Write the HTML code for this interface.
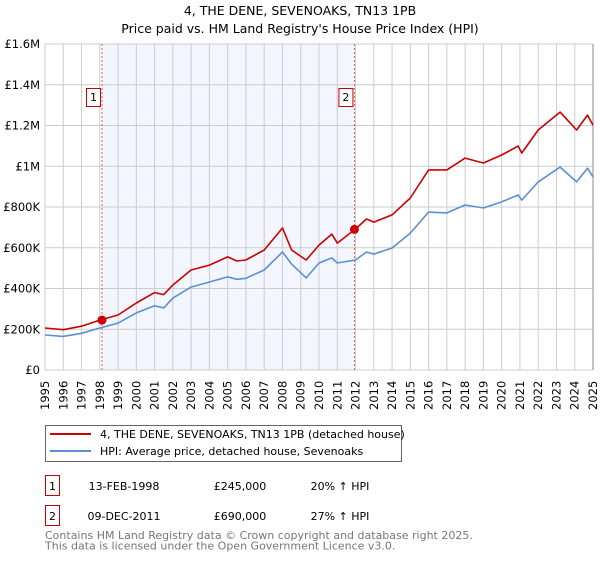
<!DOCTYPE html>
<html><head><meta charset="utf-8"><style>
body{margin:0;background:#fff;font-family:"Liberation Sans","DejaVu Sans",sans-serif;}
svg text{font-family:"DejaVu Sans","Liberation Sans",sans-serif;}
</style></head><body>
<svg id="chart" width="600" height="560" xmlns="http://www.w3.org/2000/svg">
<text x="300" y="15" text-anchor="middle" font-size="12.5">4, THE DENE, SEVENOAKS, TN13 1PB</text>
<text x="300" y="33" text-anchor="middle" font-size="12.5">Price paid vs. HM Land Registry's House Price Index (HPI)</text>
<g id="plot"></g>
<g>
<rect x="45.5" y="425.5" width="356" height="36" fill="#fff" stroke="#666"/>
<line x1="50" y1="434" x2="91" y2="434" stroke="#cc0000" stroke-width="2"/>
<text x="100" y="438" font-size="11">4, THE DENE, SEVENOAKS, TN13 1PB (detached house)</text>
<line x1="50" y1="451" x2="91" y2="451" stroke="#5b8fd4" stroke-width="2"/>
<text x="100" y="455" font-size="11">HPI: Average price, detached house, Sevenoaks</text>
</g>
<g>
<rect x="45.5" y="475.5" width="14" height="20" fill="#fff" stroke="#cc0000"/>
<text x="52.5" y="490" text-anchor="middle" font-size="11">1</text>
<text x="124" y="490" text-anchor="middle" font-size="11">13-FEB-1998</text>
<text x="240" y="490" text-anchor="middle" font-size="11">£245,000</text>
<text x="340" y="490" text-anchor="middle" font-size="11">20% ↑ HPI</text>
<rect x="45.5" y="505.5" width="14" height="20" fill="#fff" stroke="#cc0000"/>
<text x="52.5" y="520" text-anchor="middle" font-size="11">2</text>
<text x="124" y="520" text-anchor="middle" font-size="11">09-DEC-2011</text>
<text x="240" y="520" text-anchor="middle" font-size="11">£690,000</text>
<text x="340" y="520" text-anchor="middle" font-size="11">27% ↑ HPI</text>
</g>
<text x="45" y="539" font-size="11" fill="#777">Contains HM Land Registry data © Crown copyright and database right 2025.</text>
<text x="45" y="549.5" font-size="11" fill="#777">This data is licensed under the Open Government Licence v3.0.</text>
</svg>
<script>
const hpiYears=[1995,1996,1997,1998,1999,2000,2001,2001.5,2002,2003,2004,2005,2005.5,2006,2007,2008,2008.5,2009.3,2010,2010.7,2011,2012,2012.6,2013,2014,2015,2016,2017,2018,2019,2020,2020.9,2021.1,2022,2023.2,2024.1,2024.7,2025];
const hpiValues=[172,165,180,206,230,280,315,305,353,407,432,457,445,450,491,579,520,452,525,550,525,540,579,569,599,672,775,771,810,795,825,859,834,923,996,923,991,947];
const priceValues=[206,198,215,245,270,329,380,370,417,491,515,555,535,540,589,697,589,540,613,667,623,692,741,726,761,844,982,982,1040,1016,1055,1099,1065,1178,1266,1178,1251,1202];
const yTicks=[0,200,400,600,800,1000,1200,1400,1600];
const yTickLabels=["£0","£200K","£400K","£600K","£800K","£1M","£1.2M","£1.4M","£1.6M"];
const saleYears=[1998.12,2011.94];
const saleValues=[245,690];
const saleLabels=["1","2"];

const NS="http://www.w3.org/2000/svg";
const X0=45,X1=593,Y0=370,Y1=44;
const xs=y=>X0+(y-1995)/(2025-1995)*(X1-X0);
const ys=v=>Y0-v/1600*(Y0-Y1);
const g=document.getElementById('plot');
function mk(t,a){const e=document.createElementNS(NS,t);for(const k in a)e.setAttribute(k,a[k]);g.appendChild(e);return e;}
let r=mk('rect',{x:xs(saleYears[0]),y:Y1,width:xs(saleYears[1])-xs(saleYears[0]),height:Y0-Y1,fill:'#f3f6fe'});


for(let yr=1995;yr<=2025;yr++){
 const l=mk('line',{x1:xs(yr),x2:xs(yr),y1:Y1,y2:Y0,stroke:'#cccccc','stroke-width':1});
 
 
 const t=mk('text',{transform:`translate(${xs(yr)+4},${Y0+40}) rotate(-90)`,'font-size':11.5});
 t.textContent=yr;
 
 
}
yTicks.forEach((v,i)=>{
 const l=mk('line',{x1:X0,x2:X1,y1:ys(v),y2:ys(v),stroke:'#cccccc','stroke-width':1});
 
 
 const t=mk('text',{x:X0-5,y:ys(v)+4,'text-anchor':'end','font-size':11.5});
 t.textContent=yTickLabels[i];
 
 
});
const ax=mk('line',{x1:X1,x2:X1,y1:Y1,y2:Y0,stroke:'#888','stroke-width':1});


saleYears.forEach((yr,i)=>{
 const l=mk('line',{x1:xs(yr),x2:xs(yr),y1:Y1,y2:Y0,stroke:'#e06060','stroke-width':1,'stroke-dasharray':'2,2'});
 
 
 const b=mk('rect',{x:xs(yr)-15.5,y:88.5,width:14,height:18,fill:'#fff',stroke:'#cc0000'});
 
 
 const t=mk('text',{x:xs(yr)-8.5,y:101,'text-anchor':'middle','font-size':11});
 t.textContent=saleLabels[i];
 
 
});
function line(vals,col,name){
 const d=hpiYears.map((yr,i)=>(i?'L':'M')+xs(yr).toFixed(1)+','+ys(vals[i]).toFixed(1)).join('');
 const p=mk('path',{d:d,fill:'none',stroke:col,'stroke-width':1.6,'stroke-linejoin':'round'});
 
 
}
line(hpiValues,'#5b8fd4','hpi-line');
line(priceValues,'#cc0000','property-price-line');
saleYears.forEach((yr,i)=>{
 const c=mk('circle',{cx:xs(yr),cy:ys(saleValues[i]),r:4.5,fill:'#cc0000'});
 
 
});
</script>
</body></html>
